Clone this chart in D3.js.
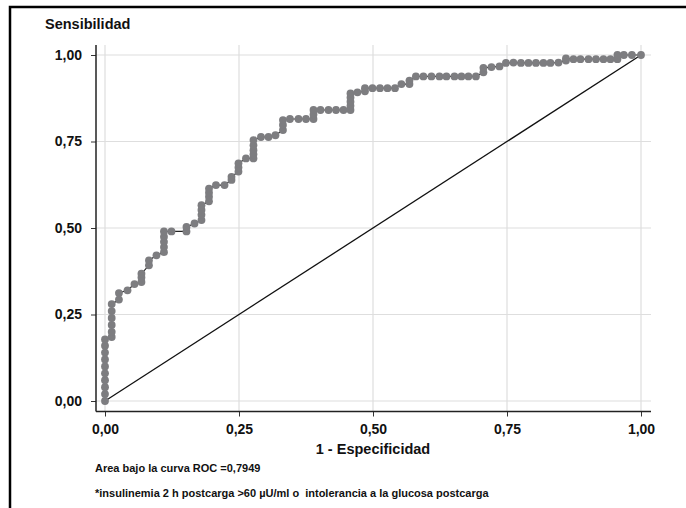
<!DOCTYPE html>
<html>

<head>
  <meta charset="utf-8">
  <title>Curva ROC</title>
  <style>
    body { margin: 0; background: #fff; }
    text { font-family: "Liberation Sans", Arial, sans-serif; font-weight: bold; fill: #111; }
  </style>
</head>

<body>
  <svg width="686" height="508"></svg>

  <script src="https://cdnjs.cloudflare.com/ajax/libs/d3/7.8.5/d3.min.js"></script>
  <script>
    // 1 - especificidad (eje x) y sensibilidad (eje y)
    const especificidad1 = [
      0, 0, 0, 0, 0, 0, 0, 0, 0, 0,
      0.0125, 0.0125, 0.0125, 0.0125, 0.0125, 0.0125,
      0.026, 0.026, 0.042, 0.055, 0.068, 0.068, 0.068,
      0.082, 0.082, 0.096,
      0.110, 0.110, 0.110, 0.110, 0.110,
      0.124, 0.152, 0.152, 0.167,
      0.180, 0.180, 0.180, 0.180,
      0.194, 0.194, 0.194, 0.194,
      0.207, 0.223, 0.236, 0.236,
      0.249, 0.249, 0.249, 0.263,
      0.277, 0.277, 0.277, 0.277, 0.277,
      0.291, 0.305, 0.318,
      0.332, 0.332, 0.332,
      0.345, 0.361, 0.375,
      0.389, 0.389, 0.389,
      0.402, 0.417, 0.431, 0.445,
      0.458, 0.458, 0.458, 0.458, 0.458,
      0.471, 0.485, 0.485, 0.499, 0.513, 0.527, 0.541,
      0.553, 0.568, 0.568,
      0.580, 0.594, 0.609, 0.624, 0.637, 0.652, 0.665, 0.678, 0.692,
      0.706, 0.706, 0.721, 0.736,
      0.748, 0.762, 0.776, 0.790, 0.804, 0.818, 0.831, 0.846,
      0.860, 0.860, 0.874, 0.887, 0.902, 0.916, 0.930, 0.943,
      0.956, 0.956, 0.968, 0.983, 1.0
    ];
    const sensibilidad = [
      0, 0.02, 0.04, 0.06, 0.08, 0.10, 0.12, 0.14, 0.16, 0.178,
      0.185, 0.20, 0.22, 0.24, 0.26, 0.28,
      0.293, 0.312, 0.32, 0.338, 0.344, 0.357, 0.368,
      0.392, 0.406, 0.421,
      0.43, 0.445, 0.46, 0.475, 0.49,
      0.49, 0.49, 0.503, 0.513,
      0.523, 0.538, 0.552, 0.566,
      0.577, 0.59, 0.602, 0.614,
      0.624, 0.624, 0.639, 0.648,
      0.663, 0.675, 0.687, 0.701,
      0.701, 0.713, 0.725, 0.739, 0.754,
      0.763, 0.763, 0.768,
      0.783, 0.798, 0.812,
      0.815, 0.815, 0.815,
      0.815, 0.828, 0.841,
      0.841, 0.841, 0.841, 0.841,
      0.841, 0.853, 0.865, 0.877, 0.889,
      0.892, 0.895, 0.904, 0.904, 0.904, 0.904, 0.904,
      0.916, 0.916, 0.926,
      0.938, 0.938, 0.938, 0.938, 0.938, 0.938, 0.938, 0.938, 0.938,
      0.950, 0.963, 0.965, 0.967,
      0.977, 0.978, 0.977, 0.977, 0.977, 0.977, 0.977, 0.978,
      0.984, 0.99, 0.988, 0.988, 0.988, 0.988, 0.988, 0.988,
      0.988, 1.0, 1.0, 1.0, 1.0
    ];
    const ticks = [0, 0.25, 0.5, 0.75, 1];
    const tickLabels = ["0,00", "0,25", "0,50", "0,75", "1,00"];

    const datos = especificidad1.map((x, i) => ({x: x, y: sensibilidad[i]}));

    let svg = d3.select('svg');

    // marco de la figura
    svg.append("path")
       .attr("d", "M10,508 L10,7 L686,7")
       .attr("fill", "none")
       .attr("stroke", "#000")
       .attr("stroke-width", 2.5);

    let x = d3.scaleLinear().domain([0, 1]).range([105, 641]);
    let y = d3.scaleLinear().domain([0, 1]).range([401, 55]);
    let plot = {left: 96, right: 651, top: 45, bottom: 411.5};
    let fmt = (d) => tickLabels[ticks.indexOf(d)];

    // rejilla
    svg.append("g").selectAll("line").data(ticks).enter().append("line")
       .attr("x1", plot.left).attr("x2", plot.right)
       .attr("y1", d => y(d)).attr("y2", d => y(d))
       .attr("stroke", "#dedede").attr("stroke-width", 1.2);
    svg.append("g").selectAll("line").data(ticks).enter().append("line")
       .attr("x1", d => x(d)).attr("x2", d => x(d))
       .attr("y1", plot.top).attr("y2", plot.bottom)
       .attr("stroke", "#dedede").attr("stroke-width", 1.2);

    // ejes
    let xAxis = svg.append("g")
       .attr("transform", "translate(0," + plot.bottom + ")")
       .call(d3.axisBottom(x).tickValues(ticks).tickFormat(fmt).tickSize(5).tickPadding(8));
    let yAxis = svg.append("g")
       .attr("transform", "translate(" + plot.left + ",0)")
       .call(d3.axisLeft(y).tickValues(ticks).tickFormat(fmt).tickSize(5).tickPadding(9));
    [xAxis, yAxis].forEach(a => {
      a.select(".domain").remove();
      a.selectAll("text").attr("font-size", 14).attr("font-family", null).style("fill", "#111");
      a.selectAll("line").attr("stroke", "#333");
    });
    svg.append("line").attr("x1", plot.left).attr("x2", plot.right).attr("y1", plot.bottom).attr("y2", plot.bottom)
       .attr("stroke", "#222").attr("stroke-width", 1.5);
    svg.append("line").attr("x1", plot.left).attr("x2", plot.left).attr("y1", plot.top).attr("y2", plot.bottom)
       .attr("stroke", "#222").attr("stroke-width", 1.5);

    // diagonal de referencia
    svg.append("line")
       .attr("x1", x(0)).attr("y1", y(0)).attr("x2", x(1)).attr("y2", y(1))
       .attr("stroke", "#111").attr("stroke-width", 1.3);

    // curva ROC
    svg.append("path")
       .datum(datos)
       .attr("d", d3.line().x(d => x(d.x)).y(d => y(d.y)))
       .attr("fill", "none")
       .attr("stroke", "#222")
       .attr("stroke-width", 1.2);
    svg.append("g").selectAll("circle").data(datos).enter().append("circle")
       .attr("cx", d => x(d.x))
       .attr("cy", d => y(d.y))
       .attr("r", 3.9)
       .attr("fill", "#7d7d80");

    // textos
    svg.append("text").text("Sensibilidad")
       .attr("x", 45).attr("y", 29).attr("font-size", 14.5);
    svg.append("text").text("1 - Especificidad")
       .attr("x", 373).attr("y", 454).attr("text-anchor", "middle").attr("font-size", 14.5);
    svg.append("text").text("Area bajo la curva ROC =0,7949")
       .attr("x", 95).attr("y", 472).attr("font-size", 11);
    svg.append("text").text("*insulinemia 2 h postcarga >60 µU/ml o  intolerancia a la glucosa postcarga")
       .attr("x", 95).attr("y", 497).attr("font-size", 11).style("white-space", "pre");
  </script>
</body>

</html>
